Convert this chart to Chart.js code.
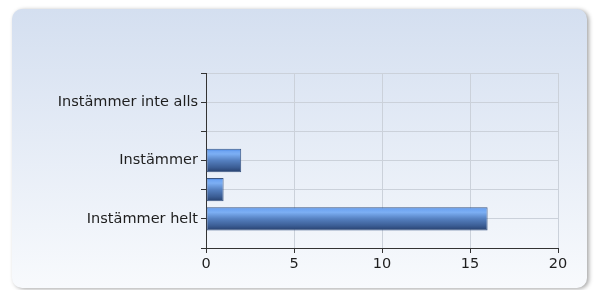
<!DOCTYPE html>
<html>
<head>
<meta charset="utf-8">
<script src="https://cdn.jsdelivr.net/npm/chart.js@4/dist/chart.umd.min.js"></script>
<style>
html,body{margin:0;padding:0;background:#fff;}
#wrap{width:594px;height:290px;position:relative;}
</style>
</head>
<body>
<div id="wrap"><canvas id="c" width="594" height="290"></canvas></div>
<script>
const categories = ["Instämmer inte alls", "", "Instämmer", "", "Instämmer helt"];
const values = [0, 0, 2, 1, 16];
const xTicks = [0, 5, 10, 15, 20];

const panelPlugin = {
  id: 'panel',
  beforeDraw(chart) {
    const ctx = chart.ctx;
    const x = 12, y = 9, w = 575, h = 279, r = 10;
    ctx.save();
    ctx.shadowColor = 'rgba(0,0,0,0.35)';
    ctx.shadowBlur = 4;
    ctx.shadowOffsetX = 2;
    ctx.shadowOffsetY = 1;
    const g = ctx.createLinearGradient(0, y, 0, y + h);
    g.addColorStop(0, '#d4dff0');
    g.addColorStop(1, '#f8fafd');
    ctx.fillStyle = g;
    ctx.beginPath();
    ctx.roundRect(x, y, w, h, r);
    ctx.fill();
    ctx.restore();
  }
};

function barFill(context) {
  const chart = context.chart;
  if (!chart.chartArea) return '#5a8ad8';
  const ys = chart.scales.y;
  const c = ys.getPixelForValue(context.dataIndex);
  const step = Math.abs(ys.getPixelForValue(1) - ys.getPixelForValue(0));
  const h = step * 0.8;
  const g = chart.ctx.createLinearGradient(0, c - h / 2, 0, c + h / 2);
  g.addColorStop(0, '#3f7fe0');
  g.addColorStop(0.1, '#6fa5f2');
  g.addColorStop(0.22, '#7cafF4');
  g.addColorStop(0.5, '#5580c0');
  g.addColorStop(0.8, '#3b5d94');
  g.addColorStop(1, '#263f6c');
  return g;
}

new Chart(document.getElementById('c'), {
  type: 'bar',
  data: {
    datasets: [{
      data: categories.map((c, i) => ({ y: i, x: values[i] })),
      backgroundColor: barFill,
      borderColor: '#3a5582',
      borderWidth: 1,
      borderSkipped: false,
      barPercentage: 1,
      categoryPercentage: 0.8
    }]
  },
  plugins: [panelPlugin],
  options: {
    indexAxis: 'y',
    responsive: false,
    animation: false,
    events: [],
    layout: { padding: { left: 12, top: 73, right: 36, bottom: 0 } },
    plugins: { legend: { display: false }, tooltip: { enabled: false } },
    scales: {
      x: {
        type: 'linear',
        min: 0, max: 20,
        afterBuildTicks: s => { s.ticks = xTicks.map(v => ({ value: v })); },
        grid: { color: '#cbd1da', tickColor: '#333', tickLength: 5 },
        border: { color: '#333', width: 1 },
        ticks: { color: '#1e1e1e', font: { family: 'DejaVu Sans', size: 14.5 }, padding: 3 },
        afterFit: s => { s.height = 42; }
      },
      y: {
        type: 'linear',
        reverse: true,
        offset: false,
        min: -1, max: 5,
        afterBuildTicks: s => { s.ticks = [-1, 0, 1, 2, 3, 4, 5].map(v => ({ value: v })); },
        grid: { offset: false, color: '#cbd1da', tickColor: '#333', tickLength: 5 },
        border: { color: '#333', width: 1 },
        ticks: {
          color: '#1e1e1e', font: { family: 'DejaVu Sans', size: 14.5 }, padding: 3,
          autoSkip: false,
          callback: v => (categories[v] !== undefined ? categories[v] : '')
        },
        afterFit: s => { s.width = 194; }
      }
    }
  }
});
</script>
</body>
</html>
